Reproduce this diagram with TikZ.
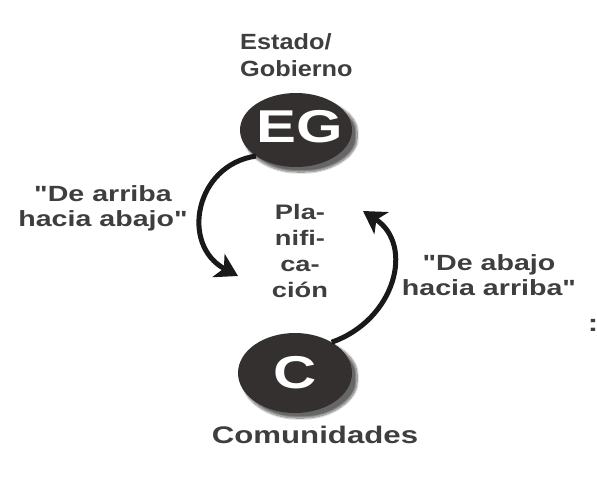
\documentclass[tikz,border=0pt]{standalone}
\usepackage{fontspec}
\setmainfont{Liberation Sans}
\newfontfamily\lbl[FakeStretch=1.3]{Liberation Sans}
\newfontfamily\lbltall[FakeStretch=1.15]{Liberation Sans}
\usetikzlibrary{arrows.meta,shadows.blur,shapes.geometric}
\definecolor{ink}{RGB}{62,62,62}
\definecolor{disc}{RGB}{52,48,47}
\tikzset{
  disk/.style={ellipse, fill=disc, minimum width=#1, inner sep=0pt,
    blur shadow={shadow xshift=5pt, shadow yshift=-5pt, shadow blur steps=12, shadow blur extra rounding=4pt, shadow opacity=60}},
  lettr/.style={text=white, font=\lbl\bfseries\fontsize{46}{46}\selectfont},
  label/.style={text=ink, font=\lbl\bfseries\fontsize{22}{25}\selectfont, align=center, inner sep=0pt},
  flow/.style={line width=5pt, draw=black!90, -{Stealth[length=22pt,width=26pt,inset=6pt]}}
}
\begin{document}
\begin{tikzpicture}[x=1pt,y=-1pt]
\useasboundingbox (0,0) rectangle (597,480);
% nodes
\node[disk=112pt, minimum height=74pt] (EG) at (296,130) {};
\node[lettr] (EGt) at (300,127) {EG};
\node[disk=114pt, minimum height=80pt] (C) at (295,373) {};
\node[lettr] (Ct) at (295,373) {C};
\node[label, font=\lbltall\bfseries\fontsize{22}{27}\selectfont, align=left, anchor=north west] (est) at (240,33) {Estado/\\Gobierno};
\node[label, font=\lbl\bfseries\fontsize{24}{27}\selectfont] (com) at (315,435) {Comunidades};
\node[label] (arr) at (103,208) {"De arriba\\hacia abajo"};
\node[label] (aba) at (489,275) {"De abajo\\hacia arriba"};
\node[label, font=\lbl\bfseries\fontsize{21}{26.3}\selectfont] (plan) at (300,251) {Pla-\\nifi-\\ca-\\ción};
\node[label, font=\lbl\bfseries\fontsize{24}{24}\selectfont] (colon) at (593,325) {:};
% connectors
\coordinate (tipL) at (238,276);
\coordinate (tipR) at (363,211);
\draw[flow] (EG.213) .. controls (195,165) and (180,245) .. (tipL);
\draw[flow] (C.40) .. controls (395,320) and (415,245) .. (tipR);
\end{tikzpicture}
\end{document}
